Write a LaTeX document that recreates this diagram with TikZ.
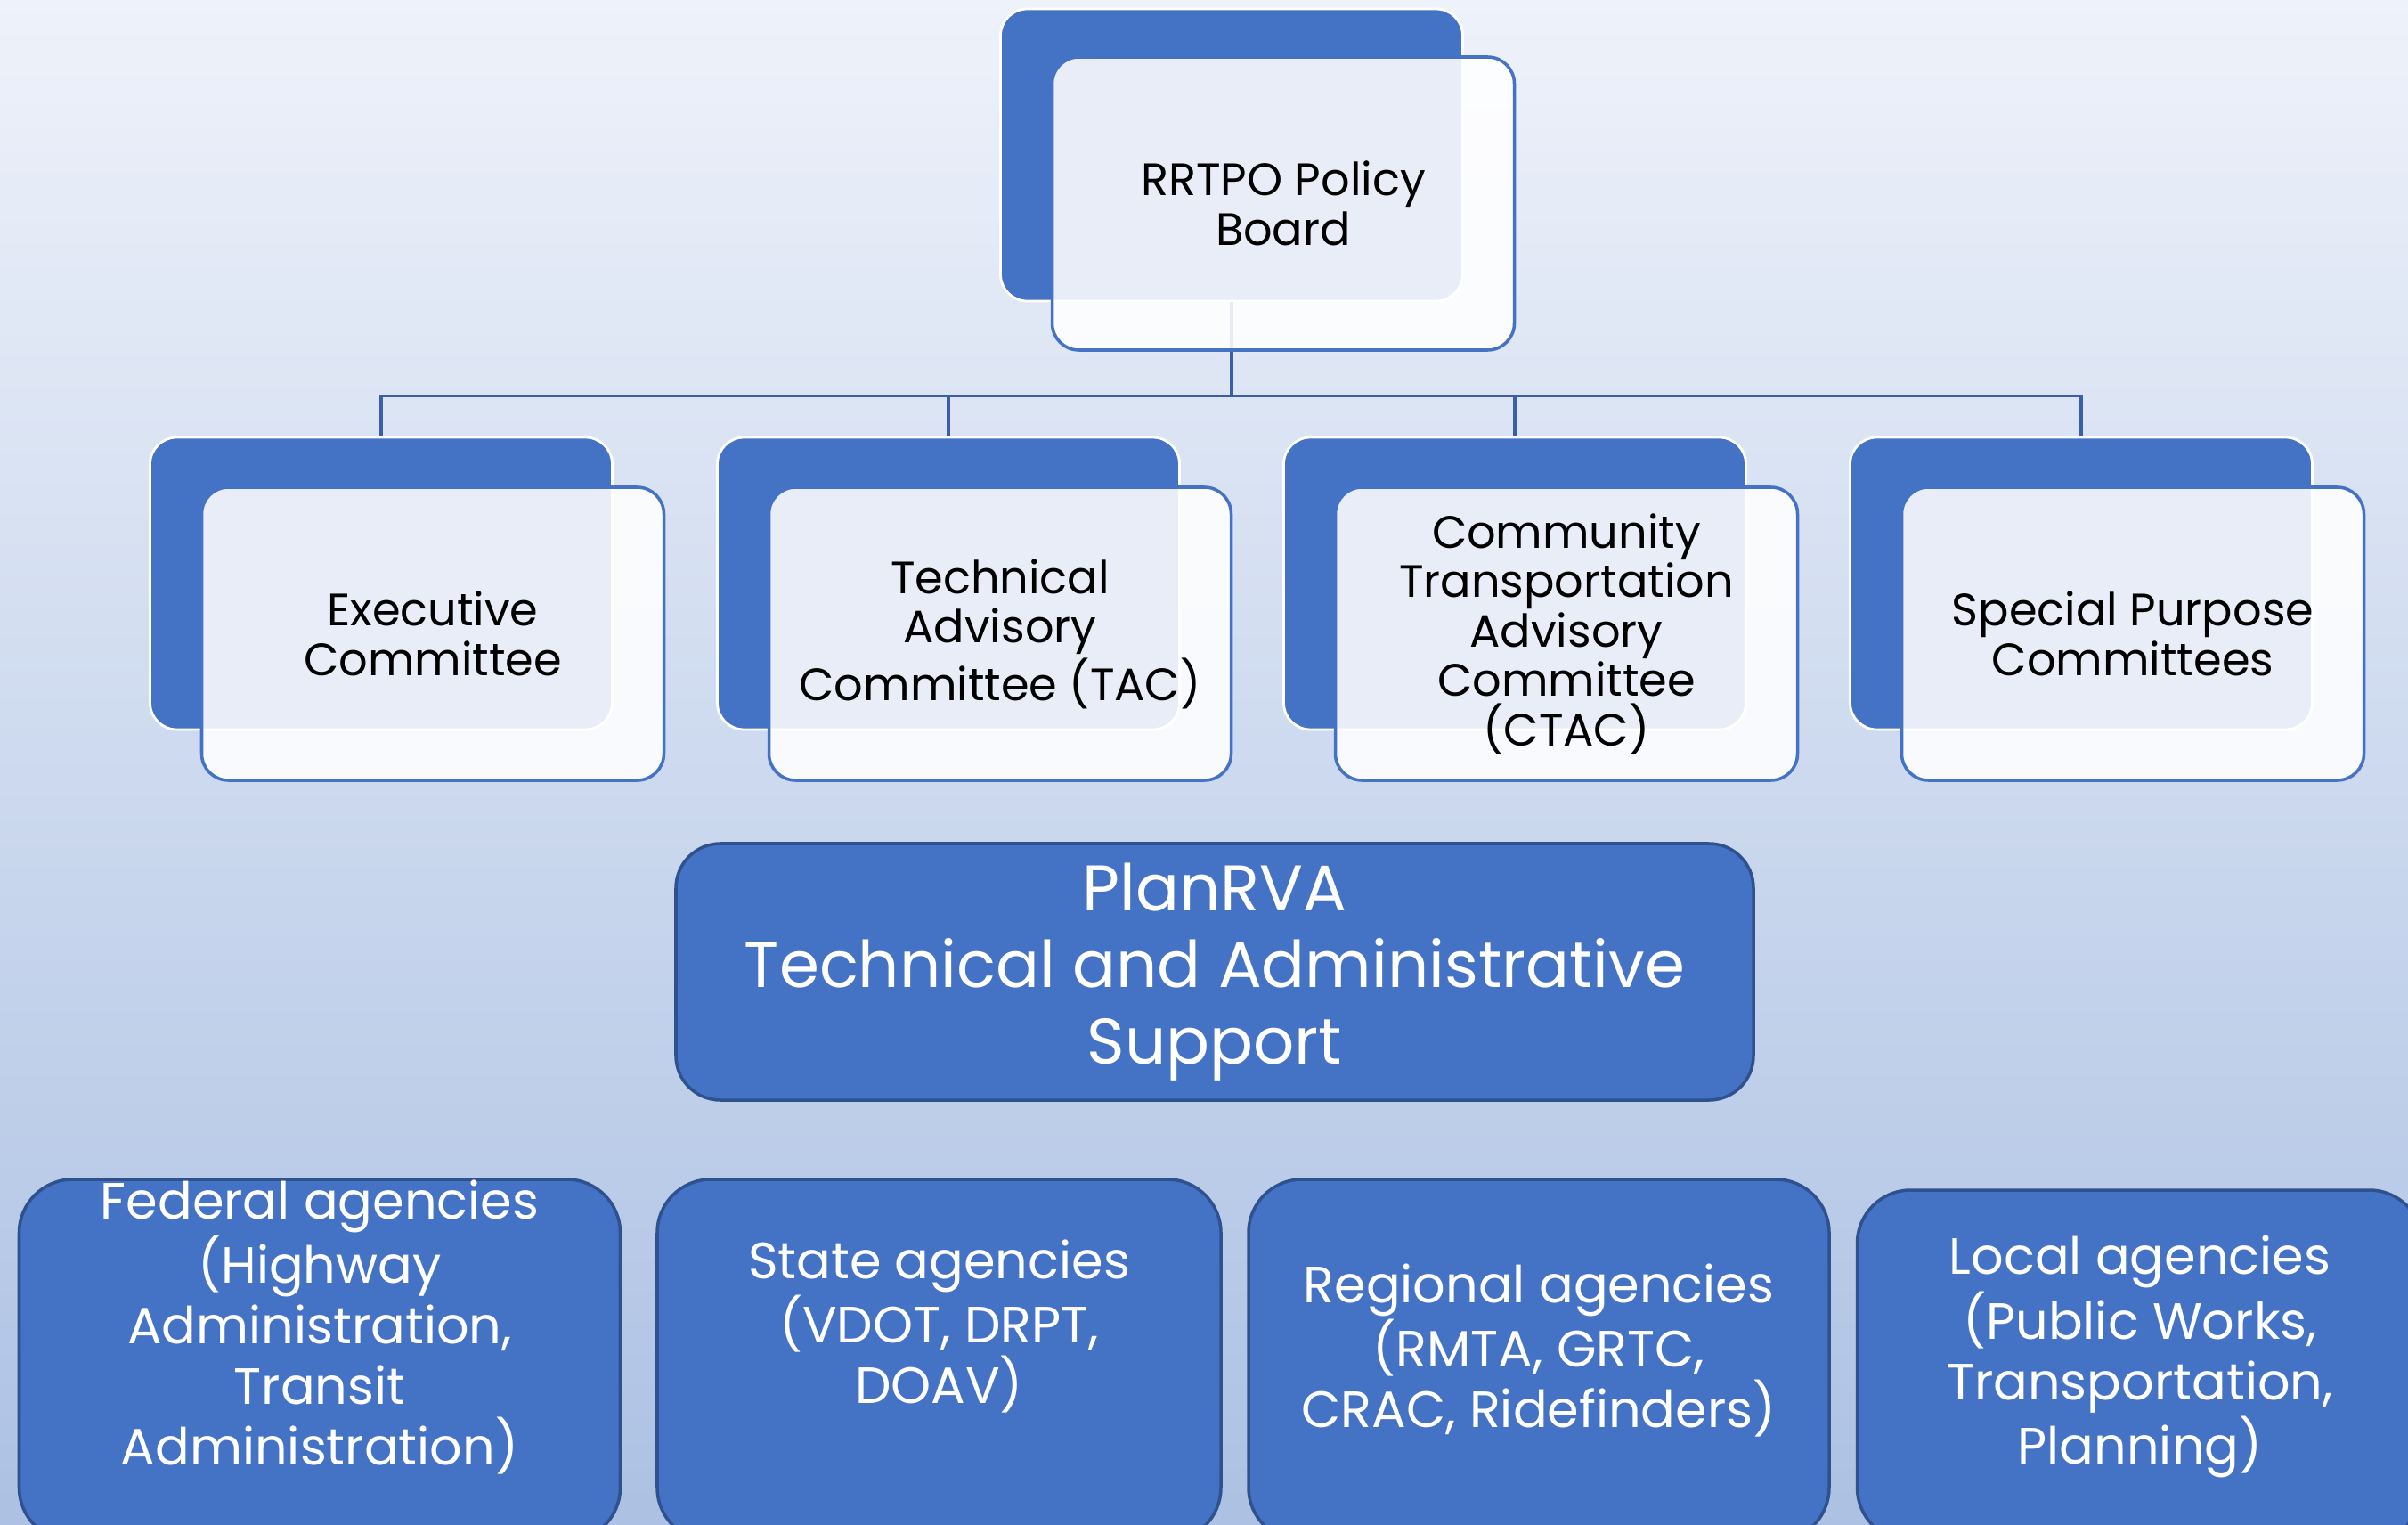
\documentclass[tikz,border=0pt]{standalone}
\usepackage{fontspec}
\setmainfont{Poppins}
\usetikzlibrary{positioning}
\definecolor{accent}{HTML}{4472C4}
\definecolor{accentdk}{HTML}{2F528F}
\definecolor{linkblue}{HTML}{3A5FA8}
\definecolor{bgtop}{HTML}{EEF2FA}
\definecolor{bgbot}{HTML}{ACC1E3}

\begin{document}
\begin{tikzpicture}[
        back/.style={draw=white, line width=0.8pt, fill=accent, rounded corners=3mm,
                     minimum width=5.19cm, minimum height=3.28cm},
        card/.style={draw=accent, line width=1pt, fill=white, fill opacity=0.88, text opacity=1,
                     rounded corners=3mm, minimum width=5.19cm, minimum height=3.29cm,
                     align=center, font=\fontsize{14.5}{15.8}\selectfont},
        link/.style={draw=linkblue, line width=1pt},
        support/.style={draw=accentdk, line width=1pt, fill=accent, rounded corners=5mm,
                        minimum width=12.1cm, minimum height=2.88cm, text=white,
                        align=center, font=\fontsize{20.6}{24.5}\selectfont},
        agency/.style={draw=accentdk, line width=1pt, fill=accent, rounded corners=6mm},
        agencytxt/.style={text=white, align=center, font=\fontsize{16.3}{19.3}\selectfont},
    ]
    \clip (0,0) rectangle (27.04,-17.12);
    % background
    \shade[top color=bgtop, bottom color=bgbot] (0,0) rectangle (27.04,-17.12);

    % back plates
    \node[back] (board-bk) at (13.83,-1.74) {};
    \node[back] (exec-bk) at (4.28,-6.55) {};
    \node[back] (tac-bk) at (10.65,-6.55) {};
    \node[back] (ctac-bk) at (17.01,-6.55) {};
    \node[back] (spc-bk) at (23.37,-6.55) {};

    % connectors
    \draw[link] (board-bk.south) -- ++(0,-1.05) coordinate (hub);
    \foreach \n in {exec, tac, ctac, spc}
        \draw[link] (hub) -| (\n-bk.north);

    % front cards
    \node[card] (board) at (14.41,-2.285) {RRTPO Policy\\Board};
    \node[card] (exec) at (4.86,-7.115) {Executive\\Committee};
    \node[card] (tac) at (11.23,-7.115) {Technical\\Advisory\\Committee (TAC)};
    \node[card] (ctac) at (17.59,-7.115) {Community\\Transportation\\Advisory\\Committee\\(CTAC)};
    \node[card] (spc) at (23.95,-7.115) {Special Purpose\\Committees};

    % staff support
    \node[support] (plan) at (13.64,-10.91) {PlanRVA\\Technical and Administrative\\Support};

    % agencies
    \node[agency, minimum width=6.75cm, minimum height=4.06cm] (fed) at (3.59,-15.27) {};
    \node[agency, minimum width=6.33cm, minimum height=4.06cm] (state) at (10.545,-15.27) {};
    \node[agency, minimum width=6.52cm, minimum height=4.06cm] (reg) at (17.28,-15.27) {};
    \node[agency, minimum width=6.35cm, minimum height=3.94cm] (local) at (24.03,-15.33) {};
    \node[agencytxt] (fed-txt) at (3.59,-14.9) {Federal agencies\\(Highway\\Administration,\\Transit\\Administration)};
    \node[agencytxt] (state-txt) at (10.545,-14.89) {State agencies\\(VDOT, DRPT,\\DOAV)};
    \node[agencytxt] (reg-txt) at (17.28,-15.16) {Regional agencies\\(RMTA, GRTC,\\CRAC, Ridefinders)};
    \node[agencytxt] (local-txt) at (24.03,-15.23) {Local agencies\\(Public Works,\\Transportation,\\Planning)};
\end{tikzpicture}
\end{document}
